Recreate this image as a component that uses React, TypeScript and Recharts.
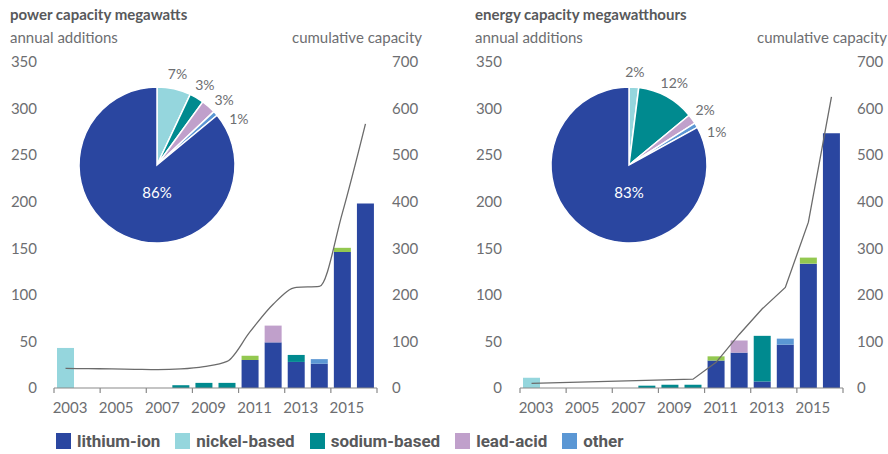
import { ComposedChart, Bar, Line, XAxis, YAxis, PieChart, Pie, Cell } from 'recharts'

const years = ['2003', '2004', '2005', '2006', '2007', '2008', '2009', '2010', '2011', '2012', '2013', '2014', '2015', '2016']

// power capacity, MW annual additions
const powerLithium = [0, 0, 0, 0, 0, 0, 0, 0, 30, 49, 28, 26, 146, 198]
const powerNickel = [43, 0, 0, 0, 0, 0, 0, 0, 0, 0, 0, 0, 0, 0]
const powerSodium = [0, 0, 0, 0, 0, 3, 5.5, 5.5, 0, 0, 7.5, 0, 0, 0]
const powerLead = [0, 0, 0, 0, 0, 0, 0, 0, 0, 18, 0, 0, 0, 0]
const powerOther = [0, 0, 0, 0, 0, 0, 0, 0, 0, 0, 0, 5, 0, 0]
const powerUnlisted = [0, 0, 0, 0, 0, 0, 0, 0, 4.5, 0, 0, 0, 4.5, 0]
const powerCumulative = [42, 41.5, 41, 40.2, 39.5, 41, 46, 57, 121, 180, 216, 218, 376, 567]

// energy capacity, MWh annual additions
const energyLithium = [0, 0, 0, 0, 0, 0, 0, 0, 29.5, 38, 7, 46.5, 133.5, 273.5]
const energyNickel = [11, 0, 0, 0, 0, 0, 0, 0, 0, 0, 0, 0, 0, 0]
const energySodium = [0, 0, 0, 0, 0, 2.5, 3.5, 3.5, 0, 0, 49, 0, 0, 0]
const energyLead = [0, 0, 0, 0, 0, 0, 0, 0, 0, 13, 0, 0, 0, 0]
const energyOther = [0, 0, 0, 0, 0, 0, 0, 0, 0, 0, 0, 6.5, 0, 0]
const energyUnlisted = [0, 0, 0, 0, 0, 0, 0, 0, 4.5, 0, 0, 0, 6.5, 0]
const energyCumulative = [10, null, null, null, null, null, null, 19, 55, 115, 170, 216, 356, 625]

// pie shares, in clockwise order from 12 o'clock
const pieNames = ['nickel-based', 'sodium-based', 'lead-acid', 'other', 'lithium-ion']
const powerShares = [7, 3, 3, 1, 86]
const energyShares = [2, 12, 2, 1, 83]

const leftTicks = [0, 50, 100, 150, 200, 250, 300, 350]
const rightTicks = [0, 100, 200, 300, 400, 500, 600, 700]

const legendNames = ['lithium-ion', 'nickel-based', 'sodium-based', 'lead-acid', 'other']

const COLORS: Record<string, string> = {
  'lithium-ion': '#2a46a0',
  'nickel-based': '#95d6dd',
  'sodium-based': '#008a8f',
  'lead-acid': '#c0a0cb',
  'other': '#5b97d4',
  'unlisted': '#93c850',
}
const TEXT = '#6d6e71'
const TITLE = '#58595b'
const AXIS = '#8a8a8a'

const BAND_HALF = 323 / years.length / 2

function buildRows(lith: number[], nick: number[], sod: number[], lead: number[], oth: number[], unl: number[], cum: (number | null)[]) {
  return years.map((year, i) => ({
    year,
    lithium: lith[i],
    nickel: nick[i],
    sodium: sod[i],
    lead: lead[i],
    other: oth[i],
    unlisted: unl[i],
    cumulative: cum[i],
  }))
}

function YearTick(props: any) {
  const { x, y, payload } = props
  const i = payload.index ?? props.index
  const half = payload.offset || BAND_HALF
  const even = i % 2 === 0
  const last = i === years.length - 1
  return (
    <g>
      {even && <line x1={x - half} x2={x - half} y1={y} y2={y + 5} stroke={AXIS} strokeWidth={1.2} />}
      {last && <line x1={x + half} x2={x + half} y1={y} y2={y + 5} stroke={AXIS} strokeWidth={1.2} />}
      {even && (
        <text x={x + 4.5} y={y + 25} textAnchor="middle" fill={TEXT} fontSize={15}>
          {payload.value}
        </text>
      )}
    </g>
  )
}

function labelAngles(shares: number[]) {
  const total = shares.reduce((a, b) => a + b, 0)
  let cum = 0
  const out: number[] = []
  shares.forEach((v, i) => {
    let mid = 90 - ((cum + v / 2) / total) * 360
    if (i > 0 && i < shares.length - 1) mid = Math.min(mid, out[i - 1] - 15)
    out.push(mid)
    cum += v
  })
  return out
}

function SharePie({ shares }: { shares: number[] }) {
  const data = pieNames.map((name, i) => ({ name, value: shares[i] }))
  const angles = labelAngles(shares)
  const renderLabel = (p: any) => {
    const { cx, cy, outerRadius, index, value } = p
    if (index === shares.length - 1) {
      return (
        <text x={cx} y={cy + outerRadius * 0.35} textAnchor="middle" dominantBaseline="central" fill="#ffffff" fontSize={15}>
          {`${value}%`}
        </text>
      )
    }
    const a = (angles[index] * Math.PI) / 180
    const r = outerRadius + 16
    return (
      <text x={cx + r * Math.cos(a)} y={cy - r * Math.sin(a)} textAnchor="middle" dominantBaseline="central" fill={TEXT} fontSize={14}>
        {`${value}%`}
      </text>
    )
  }
  return (
    <PieChart width={220} height={210}>
      <Pie
        data={data}
        dataKey="value"
        cx={100}
        cy={110}
        outerRadius={78}
        startAngle={90}
        endAngle={-270}
        stroke="#ffffff"
        strokeWidth={1.5}
        label={renderLabel}
        labelLine={false}
        isAnimationActive={false}
      >
        {data.map((d) => (
          <Cell key={d.name} fill={COLORS[d.name]} />
        ))}
      </Pie>
    </PieChart>
  )
}

function Panel({ rows, leftWidth, rightWidth, leftMargin, rightMargin, lineType }: any) {
  return (
    <ComposedChart width={444} height={420} data={rows} margin={{ top: 62, right: 0, bottom: 0, left: 0 }}>
      <XAxis
        dataKey="year"
        interval={0}
        tickSize={0}
        tickMargin={0}
        height={32}
        tickLine={false}
        axisLine={{ stroke: AXIS, strokeWidth: 1.2 }}
        tick={<YearTick />}
      />
      <YAxis
        yAxisId="left"
        orientation="left"
        width={leftWidth}
        domain={[0, 350]}
        ticks={leftTicks}
        axisLine={false}
        tickLine={false}
        tickSize={0}
        tickMargin={leftMargin}
        tick={{ fill: TEXT, fontSize: 15 }}
      />
      <YAxis
        yAxisId="right"
        orientation="right"
        width={rightWidth}
        domain={[0, 700]}
        ticks={rightTicks}
        axisLine={false}
        tickLine={false}
        tickSize={0}
        tickMargin={rightMargin}
        tick={{ fill: TEXT, fontSize: 15, textAnchor: 'start' }}
      />
      <Bar yAxisId="left" dataKey="lithium" stackId="a" barSize={17} fill={COLORS['lithium-ion']} isAnimationActive={false} />
      <Bar yAxisId="left" dataKey="nickel" stackId="a" barSize={17} fill={COLORS['nickel-based']} isAnimationActive={false} />
      <Bar yAxisId="left" dataKey="sodium" stackId="a" barSize={17} fill={COLORS['sodium-based']} isAnimationActive={false} />
      <Bar yAxisId="left" dataKey="lead" stackId="a" barSize={17} fill={COLORS['lead-acid']} isAnimationActive={false} />
      <Bar yAxisId="left" dataKey="other" stackId="a" barSize={17} fill={COLORS['other']} isAnimationActive={false} />
      <Bar yAxisId="left" dataKey="unlisted" stackId="a" barSize={17} fill={COLORS['unlisted']} isAnimationActive={false} />
      <Line
        yAxisId="right"
        type={lineType}
        dataKey="cumulative"
        stroke="#6b6b6b"
        strokeWidth={1.3}
        dot={false}
        connectNulls
        isAnimationActive={false}
      />
    </ComposedChart>
  )
}

export default function App() {
  const powerRows = buildRows(powerLithium, powerNickel, powerSodium, powerLead, powerOther, powerUnlisted, powerCumulative)
  const energyRows = buildRows(energyLithium, energyNickel, energySodium, energyLead, energyOther, energyUnlisted, energyCumulative)

  const title = { position: 'absolute' as const, fontSize: 15, fontWeight: 700, color: TITLE, whiteSpace: 'nowrap' as const, lineHeight: '18px' }
  const sub = { position: 'absolute' as const, fontSize: 15, color: TEXT, whiteSpace: 'nowrap' as const, lineHeight: '18px' }

  return (
    <div style={{ position: 'absolute', left: 0, top: 0, width: 888, height: 454, background: '#fff', fontFamily: 'Lato, sans-serif', overflow: 'hidden' }}>
      <div style={{ ...title, left: 10, top: 5 }}>power capacity megawatts</div>
      <div style={{ ...sub, left: 10, top: 28 }}>annual additions</div>
      <div style={{ ...sub, right: 888 - 422, top: 28 }}>cumulative capacity</div>
      <div style={{ ...title, left: 475, top: 5 }}>energy capacity megawatthours</div>
      <div style={{ ...sub, left: 475, top: 28 }}>annual additions</div>
      <div style={{ ...sub, right: 1, top: 28 }}>cumulative capacity</div>

      <div style={{ position: 'absolute', left: 0, top: 0 }}>
        <Panel rows={powerRows} leftWidth={54} rightWidth={67} leftMargin={17} rightMargin={15} lineType="monotone" />
      </div>
      <div style={{ position: 'absolute', left: 444, top: 0 }}>
        <Panel rows={energyRows} leftWidth={76} rightWidth={45} leftMargin={18} rightMargin={14} lineType="linear" />
      </div>

      <div style={{ position: 'absolute', left: 52, top: 50 }}>
        <SharePie shares={powerShares} />
      </div>
      <div style={{ position: 'absolute', left: 524, top: 50 }}>
        <SharePie shares={energyShares} />
      </div>

      <div style={{ position: 'absolute', left: 56, top: 433, display: 'flex', alignItems: 'center', fontFamily: 'Roboto, sans-serif', fontWeight: 700, fontSize: 17, color: TITLE }}>
        {legendNames.map((name) => (
          <div key={name} style={{ display: 'flex', alignItems: 'center', marginRight: 15 }}>
            <div style={{ width: 15, height: 16, background: COLORS[name], marginRight: 6 }} />
            <span style={{ lineHeight: '16px' }}>{name}</span>
          </div>
        ))}
      </div>
    </div>
  )
}
